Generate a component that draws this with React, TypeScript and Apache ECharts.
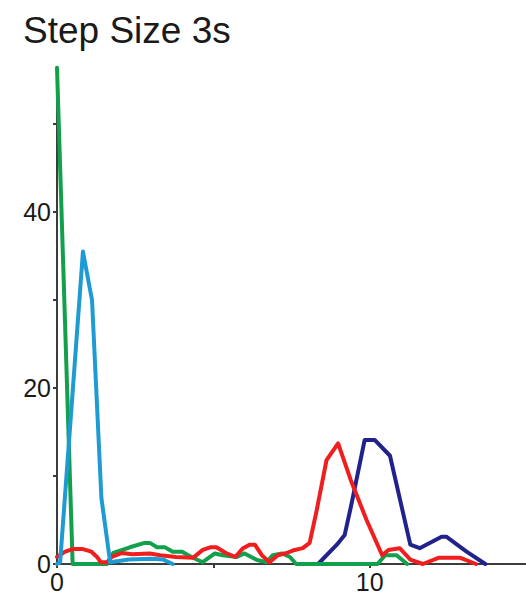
import React, { useEffect, useRef } from "react";
import * as echarts from "echarts";

const titleText = "Step Size 3s";
const xLabelValues = [0, 10];
const xTickValues = [0, 5, 10];
const yLabelValues = [0, 20, 40];
const yTickValues = [0, 10, 20, 30, 40, 50];

const navyPoints = [
  [8.0, 0], [8.35, 0], [8.95, 2.2], [9.2, 3.3], [9.4, 6.5], [9.84, 14.1], [10.16, 14.1],
  [10.65, 12.3], [11.3, 2.2], [11.6, 1.8], [12.3, 3.1], [12.45, 3.1], [13.1, 1.4], [13.7, 0],
];
const greenPoints = [
  [0, 56.4], [0.5, 0], [1.6, 0], [1.8, 1.25], [2.33, 1.9], [2.8, 2.4], [2.97, 2.4], [3.2, 1.9],
  [3.45, 1.9], [3.7, 1.4], [4.0, 1.4], [4.3, 0.8], [4.66, 0.2], [5.05, 1.2], [5.3, 1.0],
  [5.75, 0.8], [6.0, 1.2], [6.4, 0.45], [6.7, 0.2], [6.9, 1.0], [7.2, 1.2], [7.45, 0.8],
  [7.65, 0], [10.25, 0], [10.5, 1.0], [10.86, 1.0], [11.2, 0],
];
const redPoints = [
  [0, 0.8], [0.26, 1.4], [0.5, 1.7], [0.83, 1.7], [1.1, 1.4], [1.28, 0.8], [1.4, 0.2], [1.6, 0.2],
  [1.75, 0.8], [2.08, 1.25], [2.4, 1.1], [2.97, 1.2], [3.3, 1.0], [3.8, 0.8], [4.35, 0.7],
  [4.66, 1.6], [4.9, 1.9], [5.1, 1.9], [5.4, 1.25], [5.7, 0.8], [5.95, 1.8], [6.17, 2.2],
  [6.33, 2.2], [6.55, 1.0], [6.8, 0.2], [7.06, 1.0], [7.35, 1.25], [7.6, 1.6], [7.86, 1.8],
  [8.08, 2.4], [8.3, 6.0], [8.62, 11.8], [8.99, 13.7], [9.4, 9.5], [9.9, 5.0], [10.4, 1.0],
  [10.6, 1.6], [10.96, 1.8], [11.3, 0.5], [11.7, 0], [12.2, 0.7], [12.9, 0.7], [13.4, 0],
];
const cyanPoints = [
  [0, 0], [0.1, 0.2], [0.83, 35.5], [1.12, 30], [1.42, 7.5], [1.7, 0.2], [2.3, 0.5],
  [3.0, 0.6], [3.4, 0.5], [3.7, 0],
];

const seriesDefs = [
  { name: "navy", color: "#22228c", points: navyPoints },
  { name: "green", color: "#12a04c", points: greenPoints },
  { name: "red", color: "#f01e1e", points: redPoints },
  { name: "cyan", color: "#1e9bd3", points: cyanPoints },
];

export default function App() {
  const ref = useRef<HTMLDivElement>(null);
  useEffect(() => {
    document.body.style.margin = "0";
    if (!ref.current) return;
    const chart = echarts.init(ref.current, null, { renderer: "svg" });
    const axisColor = "#3c3c3c";
    chart.setOption({
      animation: false,
      backgroundColor: "#ffffff",
      title: {
        text: titleText,
        left: 18,
        top: 7,
        textStyle: {
          fontFamily: "Liberation Sans, Arial, sans-serif",
          fontSize: 37,
          fontWeight: "normal",
          color: "#1a1a1a",
        },
      },
      grid: { left: 57, right: 0, top: 67.7, bottom: 32, containLabel: false },
      xAxis: {
        type: "value",
        min: 0,
        max: 15,
        interval: 5,
        splitLine: { show: false },
        axisLine: { show: true, onZero: false, lineStyle: { color: axisColor, width: 2 } },
        axisTick: { show: true, length: 4, customValues: xTickValues, lineStyle: { color: axisColor, width: 2 } },
        axisLabel: {
          customValues: xLabelValues,
          margin: 5,
          fontFamily: "Liberation Sans, Arial, sans-serif",
          fontSize: 25,
          color: "#1a1a1a",
        },
      },
      yAxis: {
        type: "value",
        min: 0,
        max: 56.4,
        splitLine: { show: false },
        axisLine: { show: true, onZero: false, lineStyle: { color: axisColor, width: 2 } },
        axisTick: { show: true, length: 4, customValues: yTickValues, lineStyle: { color: axisColor, width: 2 } },
        axisLabel: {
          customValues: yLabelValues,
          margin: 6,
          fontFamily: "Liberation Sans, Arial, sans-serif",
          fontSize: 25,
          color: "#1a1a1a",
        },
      },
      series: seriesDefs.map((s) => ({
        name: s.name,
        type: "line",
        data: s.points,
        showSymbol: false,
        symbol: "none",
        clip: false,
        lineStyle: { color: s.color, width: 4, join: "round", cap: "round" },
        itemStyle: { color: s.color },
      })),
    });
    return () => chart.dispose();
  }, []);
  return <div ref={ref} style={{ width: 526, height: 596 }} />;
}
